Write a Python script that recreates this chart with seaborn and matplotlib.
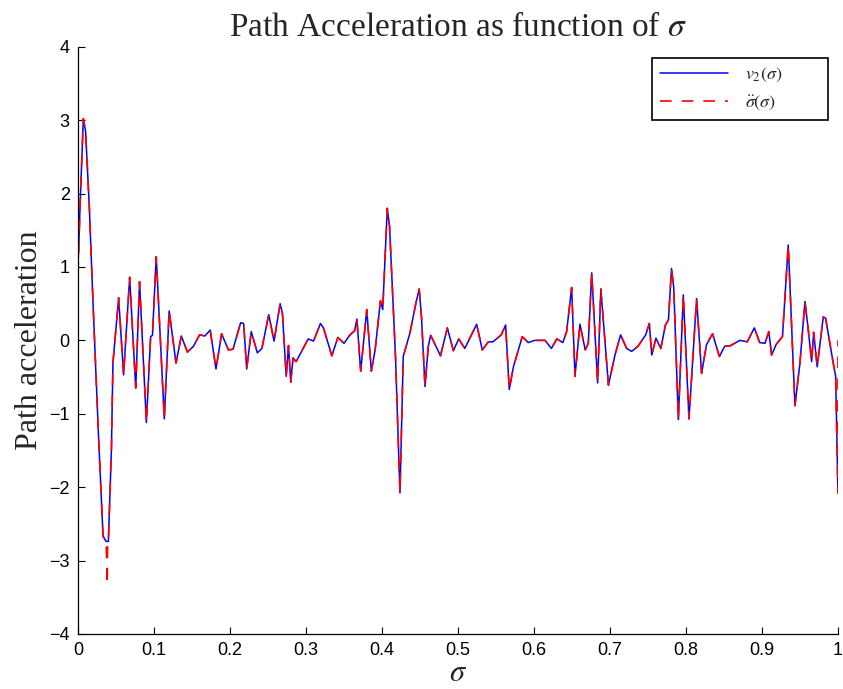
import matplotlib
matplotlib.use("Agg")
import matplotlib.pyplot as plt
import numpy as np
import pandas as pd
import seaborn as sns

# Path acceleration v2(sigma) sampled along the path parameter
sigma = [
    0.000, 0.003, 0.007, 0.010, 0.015, 0.020, 0.027, 0.033, 0.037, 0.040,
    0.044, 0.046, 0.0535, 0.060, 0.068, 0.076, 0.081, 0.090, 0.0956, 0.098,
    0.103, 0.1136, 0.120, 0.129, 0.136, 0.144, 0.152, 0.160, 0.167, 0.174,
    0.1816, 0.189, 0.198, 0.204, 0.214, 0.218, 0.222, 0.228, 0.236, 0.242,
    0.251, 0.258, 0.266, 0.269, 0.274, 0.277, 0.280, 0.283, 0.287, 0.303,
    0.310, 0.319, 0.323, 0.334, 0.342, 0.350, 0.358, 0.364, 0.367, 0.372,
    0.380, 0.386, 0.391, 0.398, 0.401, 0.407, 0.410, 0.4178, 0.4237, 0.428,
    0.4368, 0.4447, 0.449, 0.452, 0.4566, 0.461, 0.464, 0.470, 0.477, 0.486,
    0.494, 0.501, 0.509, 0.5246, 0.532, 0.540, 0.546, 0.557, 0.5627, 0.5675,
    0.573, 0.5846, 0.5925, 0.601, 0.6145, 0.623, 0.630, 0.638, 0.643, 0.6496,
    0.654, 0.6605, 0.6675, 0.6715, 0.676, 0.6838, 0.688, 0.698, 0.7066, 0.714,
    0.722, 0.7285, 0.737, 0.747, 0.7518, 0.755, 0.7605, 0.767, 0.773, 0.777,
    0.781, 0.784, 0.790, 0.7965, 0.804, 0.814, 0.8206, 0.827, 0.835, 0.844,
    0.851, 0.858, 0.871, 0.8807, 0.890, 0.897, 0.904, 0.909, 0.9127, 0.919,
    0.927, 0.9346, 0.9434, 0.950, 0.9566, 0.961, 0.9654, 0.968, 0.9727, 0.9807,
    0.9838, 0.9938, 0.997, 1.000,
]
v2 = [
    1.00, 1.90, 3.02, 2.85, 1.80, 0.46, -1.30, -2.67, -2.74, -2.74,
    -1.49, -0.31, 0.58, -0.47, 0.86, -0.65, 0.80, -1.12, 0.05, 0.07,
    1.14, -1.07, 0.40, -0.31, 0.06, -0.16, -0.08, 0.075, 0.06, 0.14,
    -0.39, 0.09, -0.13, -0.12, 0.24, 0.23, -0.39, 0.12, -0.17, -0.11,
    0.35, -0.01, 0.50, 0.37, -0.49, -0.07, -0.57, -0.24, -0.29, 0.02,
    -0.01, 0.23, 0.17, -0.21, 0.04, -0.04, 0.075, 0.13, 0.29, -0.42,
    0.42, -0.42, -0.13, 0.54, 0.42, 1.80, 1.55, -0.22, -2.08, -0.22,
    0.10, 0.51, 0.70, 0.32, -0.63, -0.08, 0.07, -0.06, -0.21, 0.17,
    -0.14, 0.02, -0.11, 0.22, -0.13, -0.02, -0.02, 0.075, 0.21, -0.67,
    -0.36, 0.05, -0.03, 0.00, 0.00, -0.11, 0.02, -0.03, 0.12, 0.72,
    -0.49, 0.22, -0.13, -0.04, 0.92, -0.58, 0.70, -0.61, -0.20, 0.075,
    -0.11, -0.15, -0.08, 0.075, 0.23, -0.20, 0.03, -0.11, 0.21, 0.28,
    0.98, 0.71, -1.08, 0.62, -1.07, 0.57, -0.45, -0.06, 0.09, -0.22,
    -0.08, -0.075, 0.00, -0.02, 0.17, -0.03, -0.04, 0.12, -0.20, -0.05,
    0.05, 1.30, -0.89, -0.31, 0.53, 0.14, -0.29, 0.11, -0.36, 0.32,
    0.30, -0.31, -0.49, -2.08,
]

# sigma-double-dot follows v2 except at a few spots
sdd_start = 0.90                       # value at sigma = 0
sdd_spike = [(0.0385, -3.33), (0.039, -2.74)]   # dip right after first minimum
sdd_tail = [(1.000, 0.00)]             # jump at the end of the path

sdd_sigma = list(sigma)
sdd_vals = list(v2)
sdd_vals[0] = sdd_start
idx = sdd_sigma.index(0.037) + 1
for s, v in reversed(sdd_spike):
    sdd_sigma.insert(idx, s)
    sdd_vals.insert(idx, v)
for s, v in sdd_tail:
    sdd_sigma.append(s)
    sdd_vals.append(v)

df_v2 = pd.DataFrame({"sigma": sigma, "val": v2})
df_sdd = pd.DataFrame({"sigma": sdd_sigma, "val": sdd_vals})

sns.set_theme(style="ticks")
plt.rcParams["font.family"] = ["Liberation Sans", "DejaVu Sans"]
plt.rcParams["mathtext.fontset"] = "stix"
plt.rcParams["xtick.direction"] = "in"
plt.rcParams["ytick.direction"] = "in"

fig = plt.figure(figsize=(8.43, 6.89), dpi=100)
ax = fig.add_axes([0.0925, 0.080, 0.9015, 0.852])

sns.lineplot(data=df_v2, x="sigma", y="val", ax=ax, sort=False, estimator=None,
             color="#0000ff", linewidth=1.1, label=r"$v_2(\sigma)$")
sns.lineplot(data=df_sdd, x="sigma", y="val", ax=ax, sort=False, estimator=None,
             color="#ff0000", linewidth=1.2, dashes=False, label=r"$\ddot{\sigma}(\sigma)$")
ax.lines[1].set_dashes((7, 6))

ax.set_xlim(0, 1)
ax.set_ylim(-4, 4)
ax.set_xticks(np.arange(0, 1.01, 0.1))
ax.set_xticklabels(["0", "0.1", "0.2", "0.3", "0.4", "0.5", "0.6", "0.7", "0.8", "0.9", "1"])
ax.set_yticks(np.arange(-4, 5, 1))
ax.tick_params(axis="both", labelsize=13, length=5, width=0.8, color="black",
               labelcolor="black", pad=6)
sns.despine(ax=ax)
for sp in ("left", "bottom"):
    ax.spines[sp].set_color("black")
    ax.spines[sp].set_linewidth(0.9)

ax.set_title(r"Path Acceleration as function of $\sigma$",
             fontfamily="Liberation Serif", fontsize=24, pad=8)
ax.set_ylabel("Path acceleration", fontfamily="Liberation Serif", fontsize=23, labelpad=4)
ax.set_xlabel(r"$\sigma$", fontsize=22, labelpad=-1)

leg = ax.legend(loc="upper left", bbox_to_anchor=(0.755, 0.881, 0.2316, 0.1),
                mode="expand", fontsize=13, frameon=True, fancybox=False,
                framealpha=1, edgecolor="black", handlelength=3.8,
                handletextpad=0.9, labelspacing=0.55, borderpad=0.45,
                borderaxespad=0)
leg.get_frame().set_linewidth(1.2)

fig.savefig("out.png", dpi=100, facecolor="white")
